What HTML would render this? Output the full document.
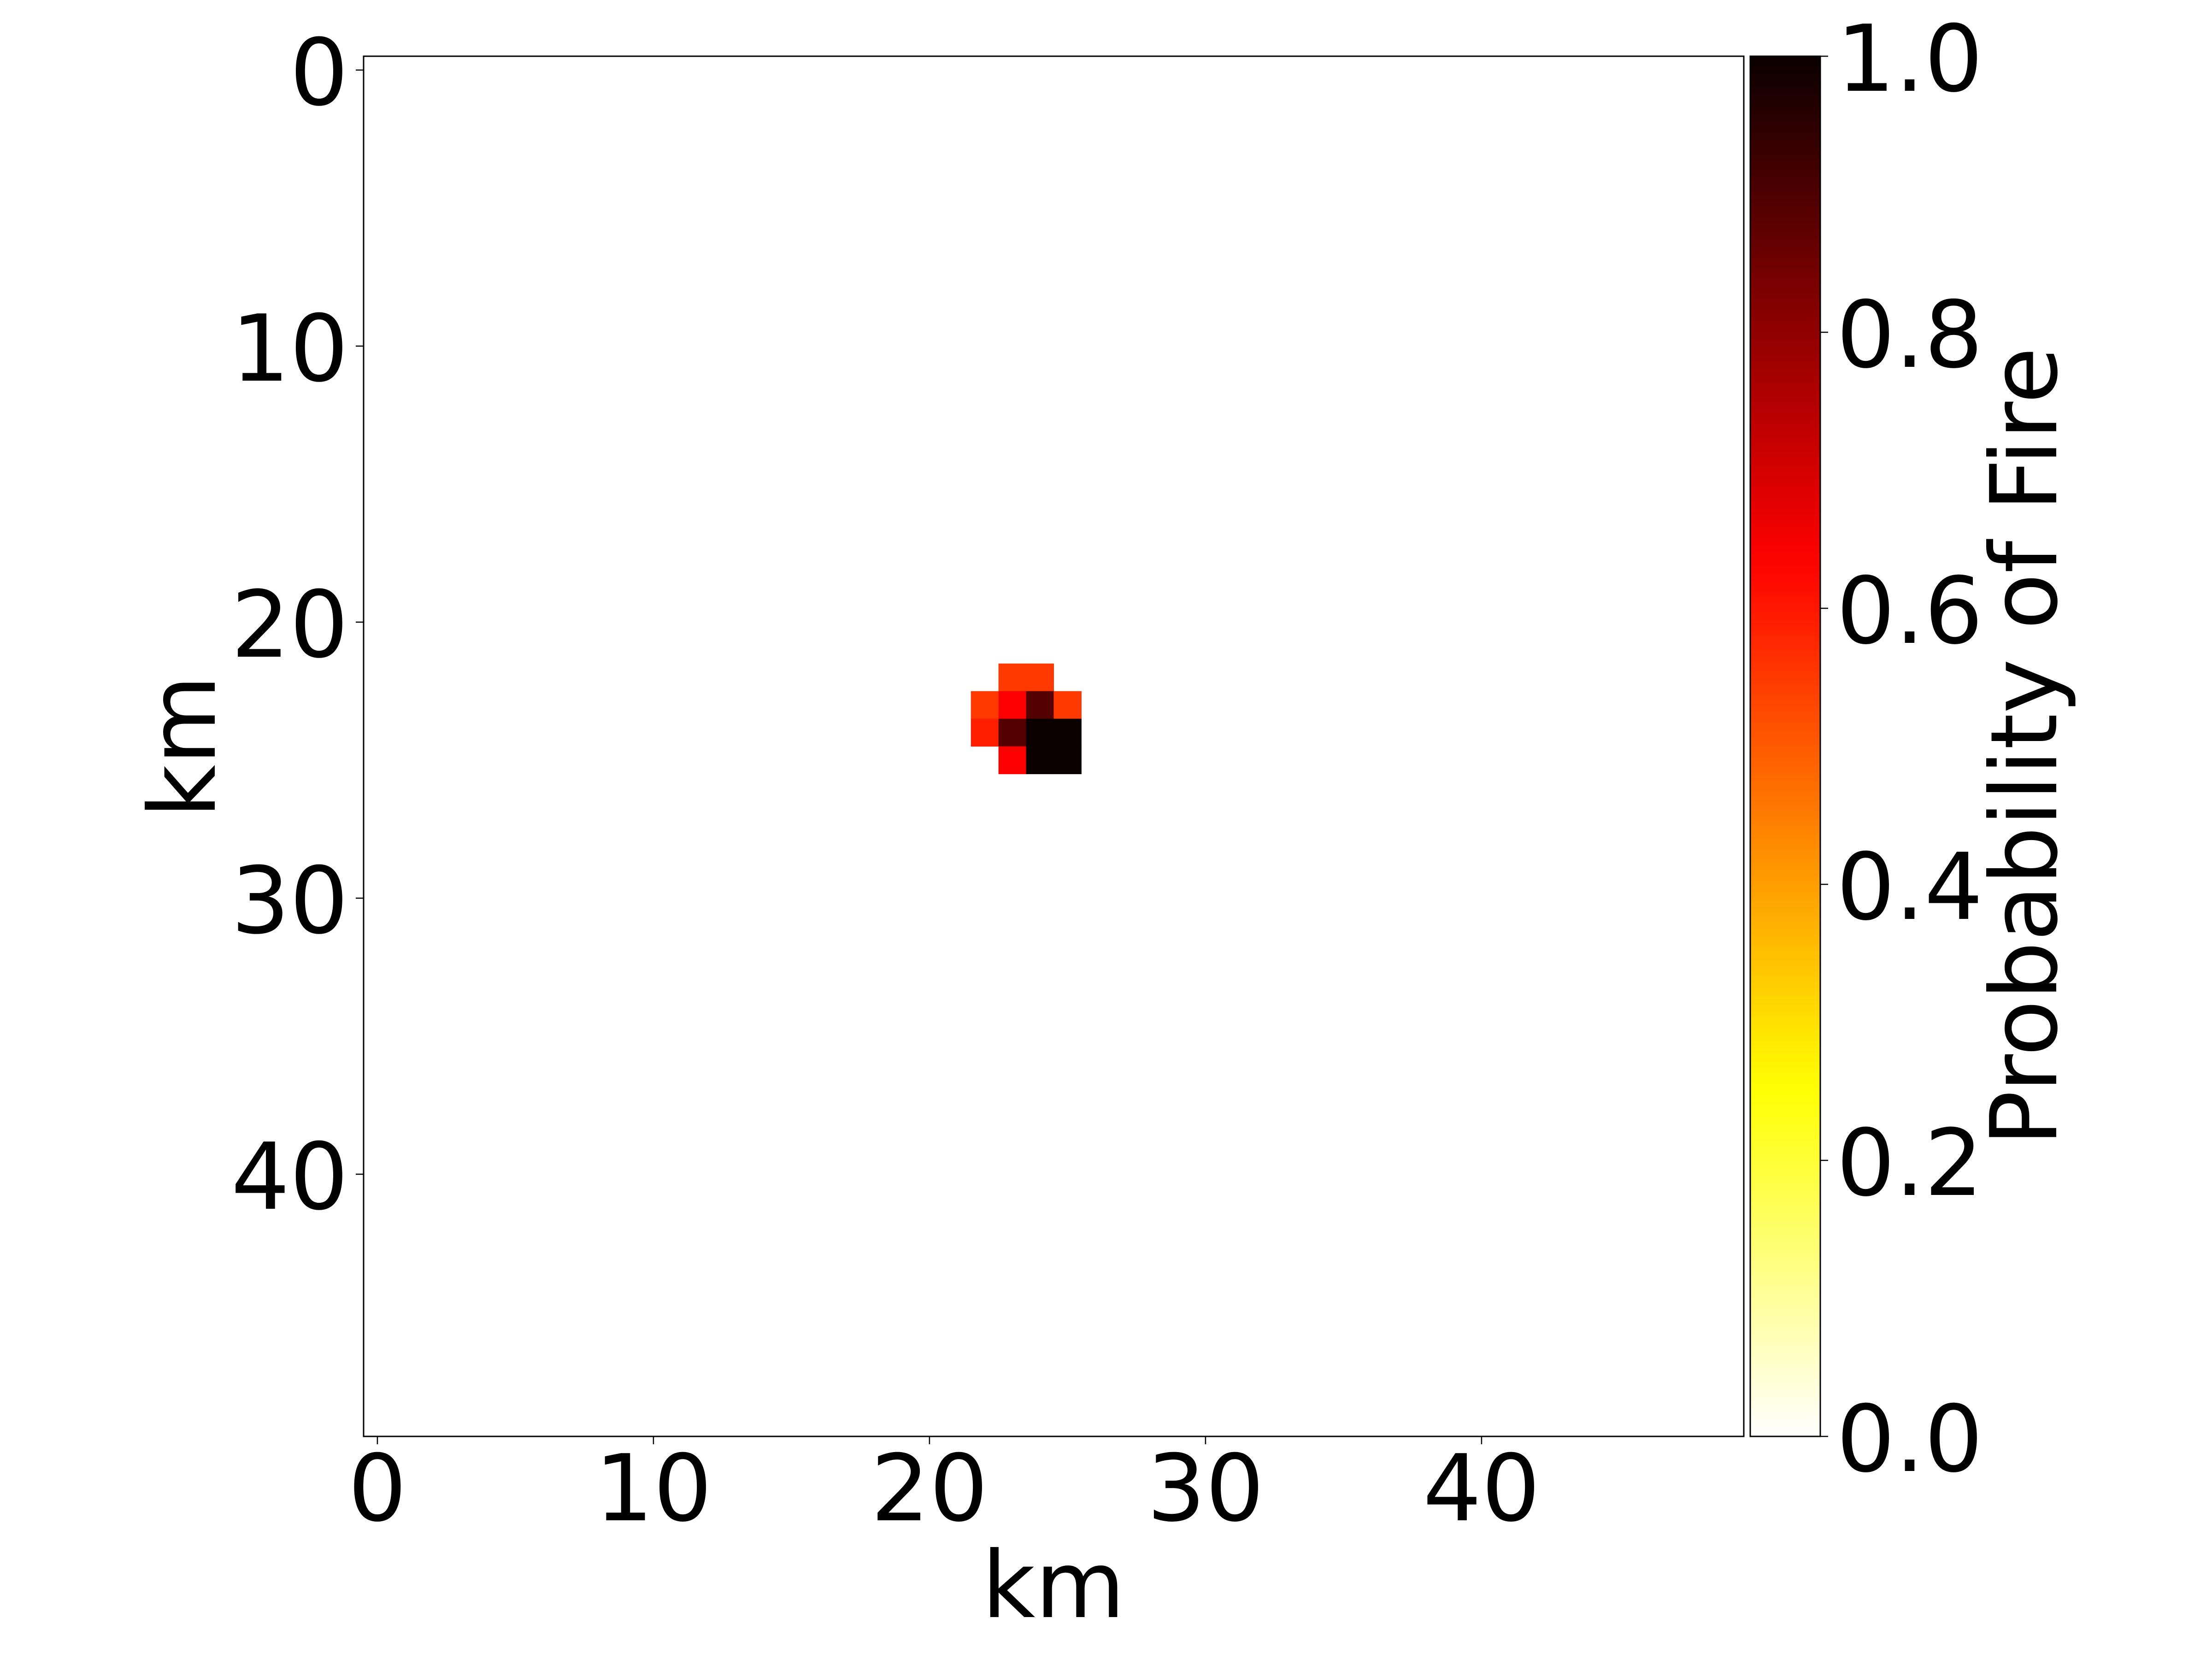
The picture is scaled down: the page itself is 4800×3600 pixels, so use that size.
<!DOCTYPE html>
<html><head><meta charset="utf-8"><style>
html,body{margin:0;padding:0;background:#fff}
svg{display:block}
text{font-family:"DejaVu Sans","Liberation Sans",sans-serif;fill:#000}
</style></head><body>
<svg id="chart" width="4800" height="3600" viewBox="0 0 4800 3600" xmlns="http://www.w3.org/2000/svg">
<defs><linearGradient id="cbgrad" x1="0" y1="1" x2="0" y2="0"></linearGradient></defs>
<rect x="0" y="0" width="4800" height="3600" fill="#fff"/>
<g id="cells"></g>
<rect x="789" y="122" width="2995" height="2995" fill="none" stroke="#000" stroke-width="3"/>
<g id="xticks"></g>
<g id="yticks"></g>
<rect x="3798" y="122" width="152" height="2995" fill="url(#cbgrad)"/>
<rect x="3798" y="122" width="152" height="2995" fill="none" stroke="#000" stroke-width="3"/>
<g id="cbticks"></g>
<text x="2286" y="3509" font-size="200" text-anchor="middle">km</text>
<text x="466" y="1620" font-size="200" text-anchor="middle" transform="rotate(-90 466 1620)">km</text>
<text x="4462" y="1620" font-size="200" text-anchor="middle" transform="rotate(-90 4462 1620)">Probability of Fire</text>
</svg>
<script>
const cellRows = [22, 22, 23, 23, 23, 23, 24, 24, 24, 24, 25, 25, 25];
const cellCols = [23, 24, 22, 23, 24, 25, 22, 23, 24, 25, 23, 24, 25];
const cellValues = [0.55, 0.55, 0.55, 0.64, 0.89, 0.55, 0.59, 0.89, 1.0, 1.0, 0.64, 1.0, 1.0];
const xTickValues = [0, 10, 20, 30, 40];
const yTickValues = [0, 10, 20, 30, 40];
const cbTickValues = [0.0, 0.2, 0.4, 0.6, 0.8, 1.0];
const cbTickLabels = ["0.0", "0.2", "0.4", "0.6", "0.8", "1.0"];

const NS = "http://www.w3.org/2000/svg";
const L = 789, T = 122, S = 2995, N = 50, U = S / N;
function xPos(v) { return L + (v + 0.5) * U; }
function yPos(v) { return T + (v + 0.5) * U; }
function cbY(v) { return T + S * (1 - v); }
function hot(x) {
  const r = x < 0.365079 ? 0.0416 + (1 - 0.0416) * x / 0.365079 : 1;
  const g = x < 0.365079 ? 0 : (x < 0.746032 ? (x - 0.365079) / (0.746032 - 0.365079) : 1);
  const b = x < 0.746032 ? 0 : (x - 0.746032) / (1 - 0.746032);
  return "rgb(" + Math.round(r * 255) + "," + Math.round(g * 255) + "," + Math.round(b * 255) + ")";
}
function hotR(v) { return hot(1 - v); }
function mk(tag, attrs, parent) {
  const e = document.createElementNS(NS, tag);
  for (const k in attrs) e.setAttribute(k, attrs[k]);
  parent.appendChild(e);
  return e;
}
const cellsG = document.getElementById("cells");
for (let i = 0; i < cellValues.length; i++) {
  const r = mk("rect", {x: L + cellCols[i] * U, y: T + cellRows[i] * U, width: U + 0.5, height: U + 0.5, fill: hotR(cellValues[i])}, cellsG);
  
  
}
const xg = document.getElementById("xticks");
xTickValues.forEach(v => {
  const x = xPos(v);
  const t = mk("line", {x1: x, x2: x, y1: T + S, y2: T + S + 17, stroke: "#000", "stroke-width": 2.5}, xg);
  
  
  const l = mk("text", {x: x, y: 3299, "font-size": 200, "text-anchor": "middle"}, xg);
  l.textContent = String(v);
  
  
});
const yg = document.getElementById("yticks");
yTickValues.forEach(v => {
  const y = yPos(v);
  const t = mk("line", {x1: L - 17, x2: L, y1: y, y2: y, stroke: "#000", "stroke-width": 2.5}, yg);
  
  
  const l = mk("text", {x: 756, y: y + 75, "font-size": 200, "text-anchor": "end"}, yg);
  l.textContent = String(v);
  
  
});
const grad = document.getElementById("cbgrad");
for (let i = 0; i <= 40; i++) {
  const v = i / 40;
  mk("stop", {offset: v, "stop-color": hotR(v)}, grad);
}
const cg = document.getElementById("cbticks");
cbTickValues.forEach((v, i) => {
  const y = cbY(v);
  const t = mk("line", {x1: 3950, x2: 3967, y1: y, y2: y, stroke: "#000", "stroke-width": 2.5}, cg);
  
  
  const l = mk("text", {x: 3985, y: y + 75, "font-size": 200}, cg);
  l.textContent = cbTickLabels[i];
  
  
});
</script>
</body></html>
